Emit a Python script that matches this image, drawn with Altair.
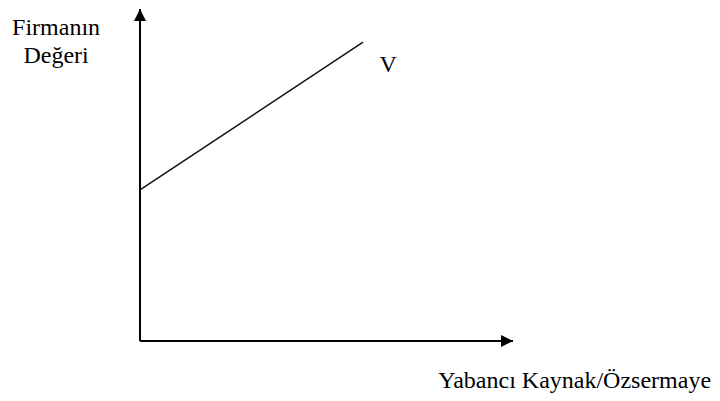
import altair as alt
import pandas as pd

# Axis extents (data units)
x_axis_end = 10.0
y_axis_end = 10.0

# Firm value line V
v_x = [0.0, 5.98]
v_y = [4.55, 9.0]

# Labels
label_texts = ["V", "Firmanın", "Değeri"]
label_x = [6.65, -2.25, -2.25]
label_y = [8.10, 9.22, 8.37]

xlabel_text = ["Yabancı Kaynak/Özsermaye"]
xlabel_x = [15.31]
xlabel_y = [-1.42]

XS = alt.Scale(domain=[-3.539, 15.335], nice=False, zero=False)
YS = alt.Scale(domain=[-1.566, 10.030], nice=False, zero=False)
FONT = "Liberation Serif"

xaxis_df = pd.DataFrame({"x": [0.0], "x2": [x_axis_end], "y": [0.0]})
yaxis_df = pd.DataFrame({"x": [0.0], "y": [0.0], "y2": [y_axis_end]})
xhead_df = pd.DataFrame({"x": [x_axis_end], "y": [0.0]})
yhead_df = pd.DataFrame({"x": [0.0], "y": [y_axis_end]})
v_df = pd.DataFrame({"x": v_x, "y": v_y})
lab_df = pd.DataFrame({"x": label_x, "y": label_y, "t": label_texts})
xlab_df = pd.DataFrame({"x": xlabel_x, "y": xlabel_y, "t": xlabel_text})

xaxis = alt.Chart(xaxis_df).mark_rule(color="black", strokeWidth=2).encode(
    x=alt.X("x:Q", scale=XS, axis=None), x2="x2:Q",
    y=alt.Y("y:Q", scale=YS, axis=None))
yaxis = alt.Chart(yaxis_df).mark_rule(color="black", strokeWidth=2).encode(
    x=alt.X("x:Q", scale=XS, axis=None),
    y=alt.Y("y:Q", scale=YS, axis=None), y2="y2:Q")
xhead = alt.Chart(xhead_df).mark_point(
    shape="M0,0L-2,-1L-2,1Z", size=144, filled=True, color="black", opacity=1, strokeWidth=0
).encode(x=alt.X("x:Q", scale=XS, axis=None), y=alt.Y("y:Q", scale=YS, axis=None))
yhead = alt.Chart(yhead_df).mark_point(
    shape="M0,0L-1,2L1,2Z", size=144, filled=True, color="black", opacity=1, strokeWidth=0
).encode(x=alt.X("x:Q", scale=XS, axis=None), y=alt.Y("y:Q", scale=YS, axis=None))
vline = alt.Chart(v_df).mark_line(color="#111111", strokeWidth=1.5).encode(
    x=alt.X("x:Q", scale=XS, axis=None), y=alt.Y("y:Q", scale=YS, axis=None))
labels = alt.Chart(lab_df).mark_text(
    font=FONT, fontSize=24, color="black", align="center", baseline="alphabetic"
).encode(x=alt.X("x:Q", scale=XS, axis=None), y=alt.Y("y:Q", scale=YS, axis=None), text="t:N")
xlabel = alt.Chart(xlab_df).mark_text(
    font=FONT, fontSize=24, color="black", align="right", baseline="alphabetic"
).encode(x=alt.X("x:Q", scale=XS, axis=None), y=alt.Y("y:Q", scale=YS, axis=None), text="t:N")

chart = alt.layer(xaxis, yaxis, vline, xhead, yhead, labels, xlabel).properties(
    width=704, height=385, padding=0, autosize=alt.AutoSizeParams(type="none"),
    background="white"
).configure_view(stroke=None)

chart.save("out.html", embed_options={"renderer": "svg", "actions": False})
